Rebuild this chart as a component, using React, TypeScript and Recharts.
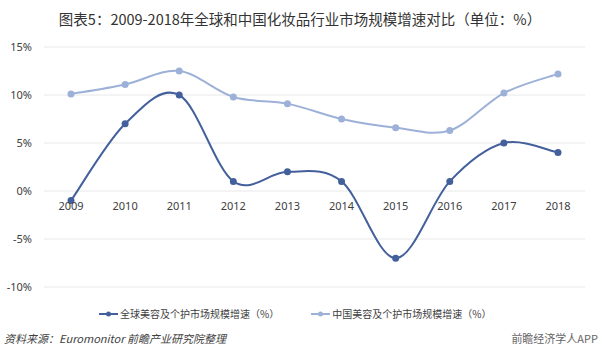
import React from 'react';
import { LineChart, Line, XAxis, YAxis, CartesianGrid } from 'recharts';

const years = ['2009', '2010', '2011', '2012', '2013', '2014', '2015', '2016', '2017', '2018'];
const globalGrowth = [-1.0, 7.0, 10.0, 1.0, 2.0, 1.0, -7.0, 1.0, 5.0, 4.0];
const chinaGrowth = [10.1, 11.1, 12.5, 9.8, 9.1, 7.5, 6.6, 6.3, 10.2, 12.2];
const yTicks = [-10, -5, 0, 5, 10, 15];
const globalName = '全球美容及个护市场规模增速（%）';
const chinaName = '中国美容及个护市场规模增速（%）';
const titleText = '图表5：2009-2018年全球和中国化妆品行业市场规模增速对比（单位：%）';
const sourceText = '资料来源：Euromonitor 前瞻产业研究院整理';

const data = years.map((y, i) => ({ year: y, global: globalGrowth[i], china: chinaGrowth[i] }));

const W = 600;
const H = 357;
const XH = 30;
const M = { top: 47, right: 15, bottom: 70 - XH, left: 0 };
const YW = 44;
const plotH = H - M.top - M.bottom - XH;
const DOMAIN: [number, number] = [-10, 15];
const zeroShift = plotH * (0 - DOMAIN[0]) / (DOMAIN[1] - DOMAIN[0]);

const DARK = '#44609c';
const LIGHT = '#9db1d8';

// Excel-like smoothed line (Catmull-Rom through points)
function smoothCurve(context: any) {
  let pts: number[][] = [];
  return {
    areaStart() {},
    areaEnd() {},
    lineStart() { pts = []; },
    lineEnd() {
      if (!pts.length) return;
      context.moveTo(pts[0][0], pts[0][1]);
      const t = 1 / 6;
      for (let i = 0; i < pts.length - 1; i++) {
        const p0 = pts[i - 1] || pts[i];
        const p1 = pts[i];
        const p2 = pts[i + 1];
        const p3 = pts[i + 2] || pts[i + 1];
        context.bezierCurveTo(
          p1[0] + (p2[0] - p0[0]) * t, p1[1] + (p2[1] - p0[1]) * t,
          p2[0] - (p3[0] - p1[0]) * t, p2[1] - (p3[1] - p1[1]) * t,
          p2[0], p2[1]
        );
      }
    },
    point(x: number, y: number) { pts.push([+x, +y]); },
  };
}

const XTick = (props: any) => {
  const { x, y, payload } = props;
  return (
    <text x={x} y={y - zeroShift + 11} textAnchor="middle" fontSize={11} fill="#404040" fontFamily="'Noto Sans', sans-serif">
      {payload.value}
    </text>
  );
};

const LegendContent = () => (
  <div style={{ display: 'flex', fontSize: 10, color: '#404040', fontFamily: "'Noto Sans CJK SC', sans-serif" }}>
    <div style={{ display: 'flex', alignItems: 'center', marginLeft: 99 }}>
      <svg width={19} height={10}>
        <line x1={0} y1={5} x2={19} y2={5} stroke={DARK} strokeWidth={2} />
        <circle cx={9.5} cy={5} r={2.5} fill={DARK} />
      </svg>
      <span style={{ marginLeft: 2 }}>{globalName}</span>
    </div>
    <div style={{ display: 'flex', alignItems: 'center', marginLeft: 32 }}>
      <svg width={19} height={10}>
        <line x1={0} y1={5} x2={19} y2={5} stroke={LIGHT} strokeWidth={2} />
        <circle cx={9.5} cy={5} r={2.5} fill={LIGHT} />
      </svg>
      <span style={{ marginLeft: 2 }}>{chinaName}</span>
    </div>
  </div>
);

export default function App() {
  return (
    <div style={{ position: 'absolute', left: 0, top: 0, width: W, height: H, background: '#fff', overflow: 'hidden' }}>
      <div style={{ position: 'absolute', top: 8, left: 0, width: W, textAlign: 'center', fontSize: 14.5, color: '#333', fontFamily: "'Noto Sans CJK SC', sans-serif", whiteSpace: 'nowrap' }}>
        {titleText}
      </div>
      <div style={{ position: 'absolute', top: 0, left: 0 }}>
        <LineChart width={W} height={H} data={data} margin={M}>
          <CartesianGrid vertical={false} stroke="#e8e8e8" />
          <XAxis dataKey="year" axisLine={false} tickLine={false} tick={<XTick />} interval={0} height={XH} padding={{ left: 27, right: 27 }} />
          <YAxis
            width={YW}
            domain={DOMAIN}
            ticks={yTicks}
            axisLine={false}
            tickLine={false}
            tickFormatter={(v: number) => `${v}%`}
            tick={{ fontSize: 11, fill: '#404040', fontFamily: "'Noto Sans', sans-serif" }}
            tickMargin={6}
          />
          <Line
            name={chinaName}
            dataKey="china"
            type={smoothCurve as any}
            stroke={LIGHT}
            strokeWidth={2}
            dot={{ r: 2.5, fill: LIGHT, stroke: LIGHT }}
            activeDot={false}
            isAnimationActive={false}
          />
          <Line
            name={globalName}
            dataKey="global"
            type={smoothCurve as any}
            stroke={DARK}
            strokeWidth={2}
            dot={{ r: 2.5, fill: DARK, stroke: DARK }}
            activeDot={false}
            isAnimationActive={false}
          />
        </LineChart>
      </div>
      <div style={{ position: 'absolute', top: 306, left: 0, width: W }}>
        <LegendContent />
      </div>
      <div style={{ position: 'absolute', top: 330, left: 4, fontSize: 11, fontStyle: 'italic', color: '#404040', fontFamily: "'Noto Sans CJK SC', sans-serif" }}>
        {sourceText}
      </div>
      <div style={{ position: 'absolute', top: 330, right: 2, fontSize: 11, color: '#666', fontFamily: "'Noto Sans CJK SC', sans-serif" }}>
        前瞻经济学人APP
      </div>
    </div>
  );
}
